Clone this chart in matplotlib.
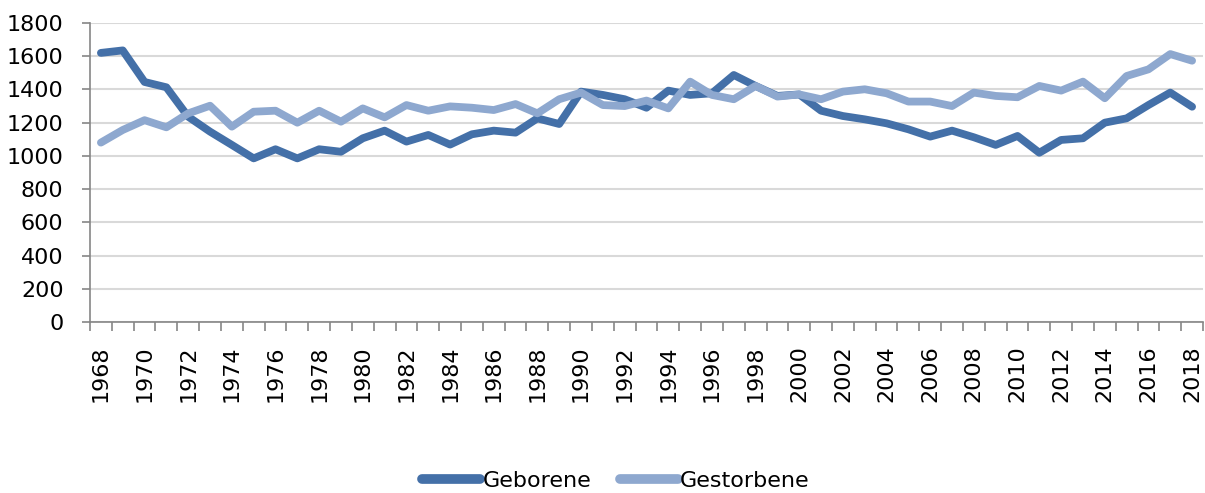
import matplotlib
matplotlib.use("Agg")
import matplotlib.pyplot as plt
import numpy as np

years = list(range(1968, 2019))
geborene = [1620, 1635, 1445, 1413, 1236, 1146, 1066, 985, 1040, 985,
            1040, 1025, 1106, 1152, 1086, 1126, 1068, 1130, 1152, 1140,
            1226, 1192, 1387, 1367, 1341, 1290, 1393, 1367, 1377, 1487,
            1421, 1361, 1370, 1272, 1240, 1220, 1196, 1160, 1116, 1152,
            1112, 1066, 1120, 1019, 1096, 1106, 1200, 1226, 1306, 1381,
            1296]
gestorbene = [1080, 1156, 1215, 1172, 1256, 1302, 1176, 1266, 1272, 1200,
              1272, 1206, 1286, 1232, 1306, 1272, 1298, 1290, 1276, 1312,
              1256, 1341, 1381, 1306, 1300, 1333, 1286, 1447, 1367, 1341,
              1421, 1357, 1370, 1341, 1387, 1401, 1377, 1327, 1327, 1300,
              1381, 1361, 1353, 1421, 1393, 1447, 1347, 1481, 1521, 1613,
              1573]
series_names = ["Geborene", "Gestorbene"]
colors = ["#4470A8", "#8EA8CF"]
yticks = list(range(0, 1801, 200))

fig = plt.figure(figsize=(12.05, 4.93), dpi=100)
ax = fig.add_axes([90 / 1205, 1 - 322 / 493, (1203 - 90) / 1205, (322 - 23) / 493])

x = np.arange(len(years))
for vals, name, c in zip([geborene, gestorbene], series_names, colors):
    ax.plot(x, vals, color=c, lw=5.6, label=name, solid_capstyle="round",
            solid_joinstyle="round")

ax.set_xlim(-0.5, len(years) - 0.5)
ax.set_ylim(0, 1800)
ax.set_yticks(yticks)
ax.set_yticklabels([str(v) for v in yticks])
ax.yaxis.grid(True, color="#D9D9D9", lw=1.5)
ax.set_axisbelow(True)

ax.set_xticks(x[::2])
ax.set_xticklabels([str(y) for y in years[::2]], rotation=90)
ax.set_xticks(np.arange(-0.5, len(years), 1), minor=True)
ax.tick_params(axis="x", which="major", length=0, pad=17, labelsize=16)
ax.tick_params(axis="x", which="minor", length=6.5, width=1.2, color="#868686")
ax.tick_params(axis="y", length=6, width=1.2, color="#868686", pad=13, labelsize=16)

for s in ["top", "right"]:
    ax.spines[s].set_visible(False)
for s in ["left", "bottom"]:
    ax.spines[s].set_color("#868686")
    ax.spines[s].set_linewidth(1.2)

leg = fig.legend(loc="center", bbox_to_anchor=(616 / 1205, 1 - 481 / 493),
                 ncol=2, frameon=False, fontsize=16, handlelength=2.6,
                 handletextpad=0.1, columnspacing=1.3, borderaxespad=0)
for line in leg.get_lines():
    line.set_linewidth(7)
    line.set_solid_capstyle("round")

fig.savefig("out.png", dpi=100)
